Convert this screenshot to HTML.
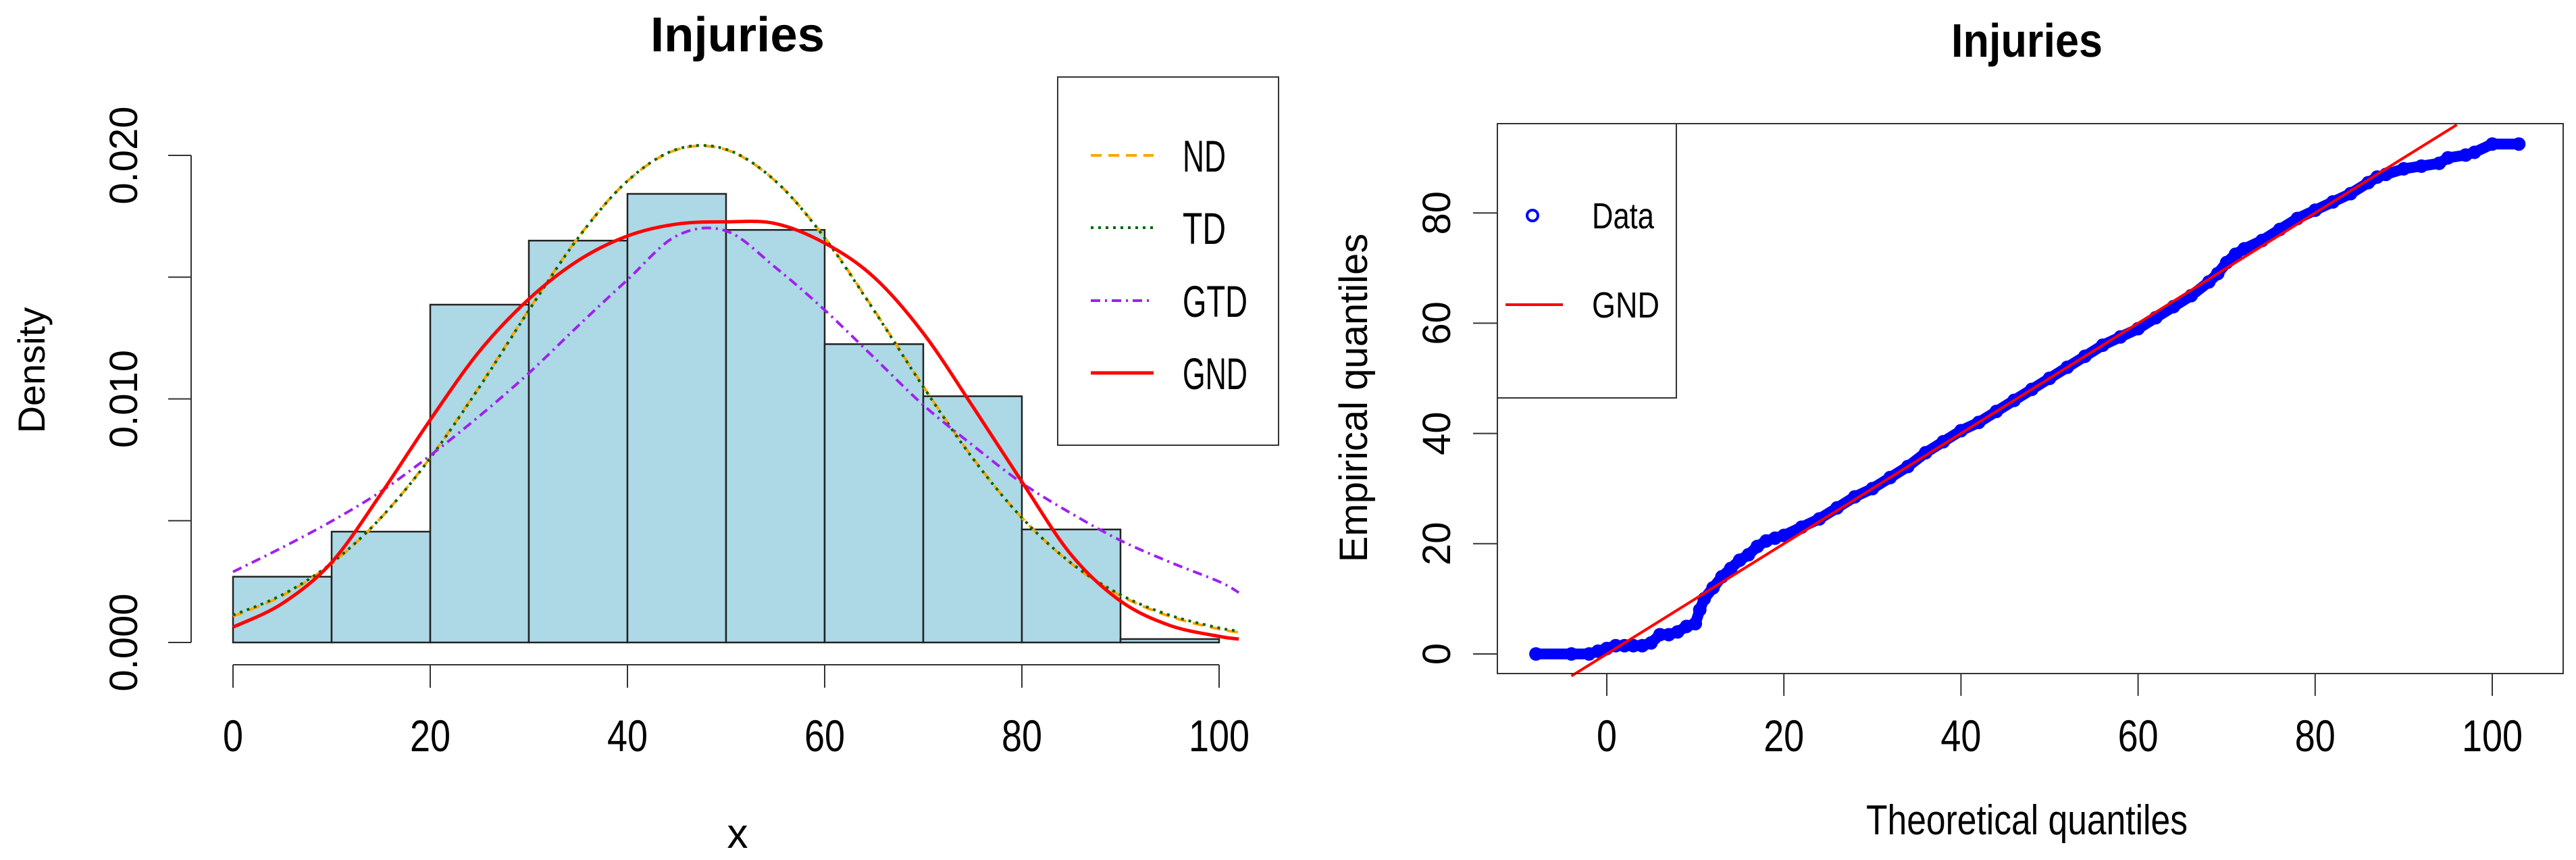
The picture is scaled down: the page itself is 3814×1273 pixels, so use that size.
<!DOCTYPE html>
<html><head><meta charset="utf-8"><style>
html,body{margin:0;padding:0;background:#fff;}
svg{display:block;}
text{font-family:"Liberation Sans",sans-serif;fill:#000;}
</style></head><body>
<svg id="chart" width="3814" height="1273" viewBox="0 0 3814 1273" xmlns="http://www.w3.org/2000/svg"></svg>
<script>
// ---------- Left histogram data ----------
const binEdges = [0,10,20,30,40,50,60,70,80,90,100];
const binDensity = [0.0027,0.00455,0.01387,0.0165,0.01842,0.01694,0.01225,0.01011,0.00464,0.00014];
const curveX = [0,5,10,15,20,25,30,35,40,45,50,55,60,65,70,75,80,85,90,95,100,102];
const ndValues = [0.00107,0.00192,0.00324,0.00512,0.00759,0.01052,0.01366,0.01663,0.01895,0.02023,0.02023,0.01895,0.01663,0.01366,0.01052,0.00759,0.00512,0.00324,0.00192,0.00107,0.00055,0.00042];
const tdValues = [0.00112,0.00196,0.00326,0.00512,0.00757,0.01049,0.01363,0.01661,0.01895,0.02025,0.02025,0.01895,0.01661,0.01363,0.01049,0.00757,0.00512,0.00326,0.00196,0.00112,0.00060,0.00047];
const gtdValues = [0.0029,0.0039,0.00498,0.0062,0.00768,0.0093,0.01106,0.0130,0.01489,0.0167,0.0169,0.01540,0.01365,0.0117,0.00975,0.0081,0.00655,0.0053,0.00419,0.0033,0.0025,0.00205];
const gndValues = [0.00063,0.0016,0.00329,0.0061,0.00914,0.01196,0.0141,0.01568,0.01669,0.01718,0.01727,0.0172,0.0164,0.0150,0.0127,0.0097,0.0066,0.0036,0.0017,0.0007,0.00025,0.00014];
const leftXTicks = [0,20,40,60,80,100];
const leftYTicks = [0,0.005,0.010,0.015,0.020];
const leftYTickLabels = ["0.000","","0.010","","0.020"];
// ---------- Right QQ data ----------
const qqTheo = [-8,-4,-2,-1,0,1,2,3,4,5,6,7,8,9,10,10.5,11,12,13,14,15,16,17,18,19,20,22,24,26,28,30,32,34,36,38,40,42,44,46,48,50,52,54,56,58,60,62,64,66,68,69,70,71,72,74,76,78,80,82,84,86,87,88,90,92,94,95,97,98,100,103];
const qqEmp = [0,0,0,0.5,1,1.5,1.5,1.5,1.5,2,3.5,3.5,4,5,5.5,8,10,12,14,15.5,17,18,19.5,20.5,21,21.5,23,24.5,26.5,28.5,30,32,34,36.5,38.5,40.5,42,44,46,48,50,52,54,56,57.5,59,61,63,65,67.5,69,71,72.5,73.5,75,77,79,80.5,82,83.5,85.5,86.5,87,88,88.5,89,90,90.5,91,92.5,92.5];
const refLine = [-4,96];
const rightXTicks = [0,20,40,60,80,100];
const rightYTicks = [0,20,40,60,80];

const NS="http://www.w3.org/2000/svg";
const svg=document.getElementById('chart');
function mk(tag,attrs,parent){const e=document.createElementNS(NS,tag);for(const k in attrs)e.setAttribute(k,attrs[k]);(parent||svg).appendChild(e);return e;}
function smooth(pts){
  let d='M'+pts[0][0].toFixed(1)+','+pts[0][1].toFixed(1);
  for(let i=0;i<pts.length-1;i++){
    const p0=pts[Math.max(0,i-1)],p1=pts[i],p2=pts[i+1],p3=pts[Math.min(pts.length-1,i+2)];
    const c1=[p1[0]+(p2[0]-p0[0])/6,p1[1]+(p2[1]-p0[1])/6];
    const c2=[p2[0]-(p3[0]-p1[0])/6,p2[1]-(p3[1]-p1[1])/6];
    d+=` C${c1[0].toFixed(1)},${c1[1].toFixed(1)} ${c2[0].toFixed(1)},${c2[1].toFixed(1)} ${p2[0].toFixed(1)},${p2[1].toFixed(1)}`;
  }
  return d;
}

const lx=v=>345+v*14.6;
const ly=v=>951-v/0.005*180.25;
const rx=v=>2379+v*13.11;
const ry=v=>968-v*8.16;

// ===== LEFT PLOT =====
const L=mk('g',{});


let t=mk('text',{x:1092,y:76,'font-size':72,'font-weight':'bold','text-anchor':'middle',textLength:258,lengthAdjust:'spacingAndGlyphs'},L);
t.textContent='Injuries';



for(let i=0;i<binDensity.length;i++){
  const r=mk('rect',{x:lx(binEdges[i]),y:ly(binDensity[i]),width:lx(binEdges[i+1])-lx(binEdges[i]),height:ly(0)-ly(binDensity[i]),fill:'#ADD8E6',stroke:'#222','stroke-width':2.5},L);
  
  
}
function curve(vals,color,dash,w,name){
  const p=mk('path',{d:smooth(curveX.map((x,i)=>[lx(x),ly(vals[i])])),fill:'none',stroke:color,'stroke-width':w,'stroke-dasharray':dash,'stroke-linejoin':'round'},L);
  
  
}
curve(ndValues,'#FFA500','16 10',4,'nd-curve');
curve(tdValues,'#006400','4 7',4,'td-curve');
curve(gtdValues,'#A020F0','14 7 3 7',4,'gtd-curve');
curve(gndValues,'#FF0000','none',5,'gnd-curve');

let ax=mk('g',{},L);


mk('line',{x1:lx(0),y1:984,x2:lx(100),y2:984,stroke:'#333','stroke-width':2},ax);
leftXTicks.forEach(v=>{
  mk('line',{x1:lx(v),y1:984,x2:lx(v),y2:1018,stroke:'#333','stroke-width':2},ax);
  const tt=mk('text',{x:lx(v),y:1112,'font-size':66,'text-anchor':'middle',textLength:(String(v).length*30),lengthAdjust:'spacingAndGlyphs'},ax);
  tt.textContent=v;
  
  
});
t=mk('text',{x:1092,y:1255,'font-size':62,'text-anchor':'middle'},L);
t.textContent='x';


let ay=mk('g',{},L);


mk('line',{x1:283,y1:ly(0.020),x2:283,y2:ly(0),stroke:'#333','stroke-width':2},ay);
leftYTicks.forEach((v,i)=>{
  mk('line',{x1:249,y1:ly(v),x2:283,y2:ly(v),stroke:'#333','stroke-width':2},ay);
  if(leftYTickLabels[i]){
    const tt=mk('text',{x:0,y:0,'font-size':58,'text-anchor':'middle',transform:`translate(203,${ly(v)}) rotate(-90)`},ay);
    tt.textContent=leftYTickLabels[i];
    
    
  }
});
t=mk('text',{x:0,y:0,'font-size':56,'text-anchor':'middle',transform:'translate(66,548) rotate(-90)'},L);
t.textContent='Density';


let lg=mk('g',{},L);


mk('rect',{x:1566,y:114,width:327,height:545,fill:'#fff',stroke:'#333','stroke-width':2},lg);
const legItems=[['ND','#FFA500','16 10',230],['TD','#006400','4 7',337],['GTD','#A020F0','14 7 3 7',445],['GND','#FF0000','none',552]];
legItems.forEach(it=>{
  mk('line',{x1:1615,y1:it[3],x2:1708,y2:it[3],stroke:it[1],'stroke-width':it[0]==='GND'?5:4,'stroke-dasharray':it[2]},lg);
  const tt=mk('text',{x:1751,y:it[3]+24,'font-size':66,textLength:it[0].length*32,lengthAdjust:'spacingAndGlyphs'},lg);
  tt.textContent=it[0];
  
  
});

// ===== RIGHT PLOT =====
const R=mk('g',{});


const band=mk('path',{d:qqTheo.map((x,i)=>(i?'L':'M')+rx(x).toFixed(1)+','+ry(qqEmp[i]).toFixed(1)).join(' '),fill:'none',stroke:'#0000FF','stroke-width':16,'stroke-linecap':'round','stroke-linejoin':'round'},R);


qqTheo.forEach((x,i)=>{
  const c=mk('circle',{cx:rx(x),cy:ry(qqEmp[i]),r:10,fill:'#0000FF'},R);
  
  
});
const rl=mk('line',{x1:rx(refLine[0]),y1:ry(refLine[0]),x2:rx(refLine[1]),y2:ry(refLine[1]),stroke:'#FF0000','stroke-width':4},R);


t=mk('text',{x:3001,y:84,'font-size':70,'font-weight':'bold','text-anchor':'middle',textLength:224,lengthAdjust:'spacingAndGlyphs'},R);
t.textContent='Injuries';


const bx=mk('rect',{x:2217,y:183,width:1578,height:814,fill:'none',stroke:'#333','stroke-width':2},R);


ax=mk('g',{},R);


rightXTicks.forEach(v=>{
  mk('line',{x1:rx(v),y1:997,x2:rx(v),y2:1030,stroke:'#333','stroke-width':2},ax);
  const tt=mk('text',{x:rx(v),y:1112,'font-size':66,'text-anchor':'middle',textLength:(String(v).length*30),lengthAdjust:'spacingAndGlyphs'},ax);
  tt.textContent=v;
  
  
});
ay=mk('g',{},R);


rightYTicks.forEach(v=>{
  mk('line',{x1:2181,y1:ry(v),x2:2217,y2:ry(v),stroke:'#333','stroke-width':2},ay);
  const tt=mk('text',{x:0,y:0,'font-size':58,'text-anchor':'middle',transform:`translate(2147,${ry(v)}) rotate(-90)`},ay);
  tt.textContent=v;
  
  
});
t=mk('text',{x:3001,y:1235,'font-size':62,'text-anchor':'middle',textLength:476,lengthAdjust:'spacingAndGlyphs'},R);
t.textContent='Theoretical quantiles';


t=mk('text',{x:0,y:0,'font-size':58,'text-anchor':'middle',transform:'translate(2024,589) rotate(-90)'},R);
t.textContent='Empirical quantiles';


lg=mk('g',{},R);


mk('rect',{x:2217,y:183,width:265,height:406,fill:'#fff',stroke:'#333','stroke-width':2},lg);
mk('circle',{cx:2269,cy:319,r:8,fill:'none',stroke:'#0000FF','stroke-width':4},lg);
t=mk('text',{x:2357,y:338,'font-size':54,textLength:92,lengthAdjust:'spacingAndGlyphs'},lg);
t.textContent='Data';


mk('line',{x1:2229,y1:451,x2:2314,y2:451,stroke:'#FF0000','stroke-width':4},lg);
t=mk('text',{x:2357,y:470,'font-size':54,textLength:100,lengthAdjust:'spacingAndGlyphs'},lg);
t.textContent='GND';


</script>
</body></html>
